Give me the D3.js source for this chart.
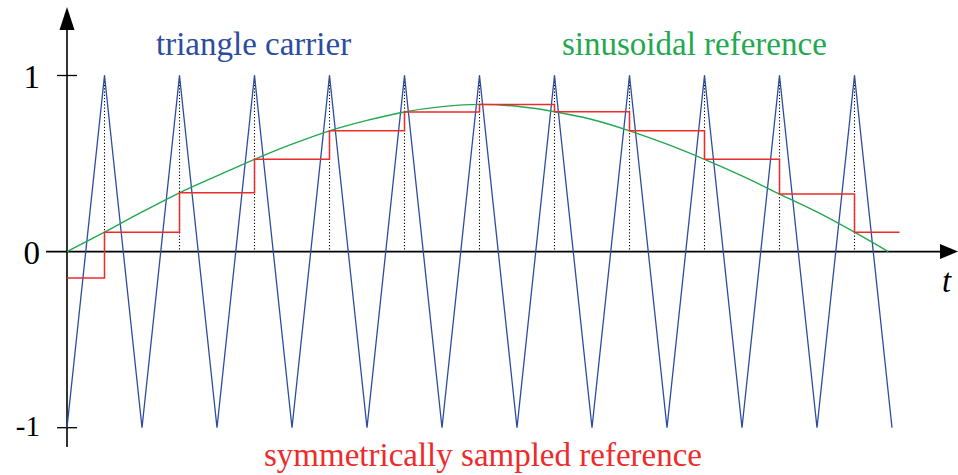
<!DOCTYPE html>
<html>
<head>
<meta charset="utf-8">
<script src="https://cdn.jsdelivr.net/npm/d3@7"></script>
<style>
  body { margin: 0; background: #fff; }
  svg { display: block; font-family: "Liberation Serif", "DejaVu Serif", serif; }
</style>
</head>
<body>
<svg width="958" height="475"></svg>
<script>
// carrier vertices (t in half carrier periods)
var carrierT = [0, 1, 2, 3, 4, 5, 6, 7, 8, 9, 10, 11, 12, 13, 14, 15, 16, 17, 18, 19, 20, 21, 22];
var carrierV = [-1, 1, -1, 1, -1, 1, -1, 1, -1, 1, -1, 1, -1, 1, -1, 1, -1, 1, -1, 1, -1, 1, -1];

// sinusoidal reference
var sineT = [0, 1, 2, 3, 4, 5, 6, 7, 8, 9, 10, 11, 12, 13, 14, 15, 16, 17, 18, 19, 20, 21, 21.9];
var sineV = [0, 0.11, 0.225, 0.334, 0.43, 0.524, 0.61, 0.686, 0.745, 0.793, 0.823, 0.836, 0.825, 0.794, 0.75, 0.686, 0.61, 0.524, 0.43, 0.327, 0.225, 0.11, 0];

// sampled (held) reference: value held from each t until the next
var sampleT = [0, 1, 3, 5, 7, 9, 11, 13, 15, 17, 19, 21, 22.2];
var sampleV = [-0.15, 0.11, 0.334, 0.524, 0.686, 0.793, 0.836, 0.794, 0.686, 0.524, 0.327, 0.11, 0.11];

// sampling instants (carrier peaks)
var peakT = [1, 3, 5, 7, 9, 11, 13, 15, 17, 19, 21];

var yTicks = [1, 0, -1];
var yTickLabels = ["1", "0", "-1"];

var blue = "#2c4ca0", green = "#22a84f", red = "#ee2b2b";

var svg = d3.select("svg");

var x = d3.scaleLinear().domain([0, 22]).range([67, 892]);
var y = d3.scaleLinear().domain([-1, 1]).range([427.7, 75.5]);

var zip = function (a, b) { return a.map(function (d, i) { return [d, b[i]]; }); };

var line = d3.line()
  .x(function (d) { return x(d[0]); })
  .y(function (d) { return y(d[1]); });

// dotted sampling lines
svg.selectAll(".samp")
  .data(peakT)
  .enter().append("line")
  .attr("class", "samp")
  .attr("x1", function (d) { return x(d); })
  .attr("x2", function (d) { return x(d); })
  .attr("y1", y(1))
  .attr("y2", y(0))
  .attr("stroke", "#000")
  .attr("stroke-width", 1.1)
  .attr("stroke-dasharray", "1.2,2");

// axes
svg.append("line")
  .attr("x1", x(0)).attr("x2", x(0))
  .attr("y1", 28).attr("y2", 447)
  .attr("stroke", "#000").attr("stroke-width", 1.6);
svg.append("path")
  .attr("d", "M" + x(0) + ",7L" + (x(0) - 7.5) + ",30L" + (x(0) + 7.5) + ",30Z")
  .attr("fill", "#000");

svg.append("line")
  .attr("x1", 46).attr("x2", 942)
  .attr("y1", y(0)).attr("y2", y(0))
  .attr("stroke", "#000").attr("stroke-width", 1.6);
svg.append("path")
  .attr("d", "M958," + y(0) + "L940," + (y(0) - 7.5) + "L940," + (y(0) + 7.5) + "Z")
  .attr("fill", "#000");

svg.selectAll(".tick")
  .data(yTicks.filter(function (d) { return d !== 0; }))
  .enter().append("line")
  .attr("class", "tick")
  .attr("x1", x(0) - 10).attr("x2", x(0) + 10)
  .attr("y1", function (d) { return y(d); })
  .attr("y2", function (d) { return y(d); })
  .attr("stroke", "#000").attr("stroke-width", 1.3);

svg.selectAll(".tlabel")
  .data(yTicks)
  .enter().append("text")
  .attr("class", "tlabel")
  .attr("x", 40)
  .attr("y", function (d) { return y(d); })
  .attr("dy", function (d) { return d === -1 ? "0.3em" : "0.38em"; })
  .attr("text-anchor", "end")
  .attr("font-size", function (d) { return d === -1 ? 29 : 33; })
  .text(function (d, i) { return yTickLabels[i]; });

svg.append("text")
  .attr("x", 942).attr("y", 292)
  .attr("font-size", 33).attr("font-style", "italic")
  .text("t");

// triangle carrier
svg.append("path")
  .datum(zip(carrierT, carrierV))
  .attr("d", line)
  .attr("fill", "none")
  .attr("stroke", blue)
  .attr("stroke-width", 1.3);

// sinusoidal reference
svg.append("path")
  .datum(zip(sineT, sineV))
  .attr("d", line.curve(d3.curveMonotoneX))
  .attr("fill", "none")
  .attr("stroke", green)
  .attr("stroke-width", 1.4);

// sampled reference
svg.append("path")
  .datum(zip(sampleT, sampleV))
  .attr("d", line.curve(d3.curveStepAfter))
  .attr("fill", "none")
  .attr("stroke", red)
  .attr("stroke-width", 1.5);

// labels
svg.append("text")
  .attr("x", 156).attr("y", 55)
  .attr("font-size", 33).attr("fill", blue)
  .text("triangle carrier");
svg.append("text")
  .attr("x", 562).attr("y", 55)
  .attr("font-size", 33).attr("fill", green)
  .text("sinusoidal reference");
svg.append("text")
  .attr("x", 264).attr("y", 466)
  .attr("font-size", 33).attr("fill", red)
  .text("symmetrically sampled reference");
</script>
</body>
</html>
